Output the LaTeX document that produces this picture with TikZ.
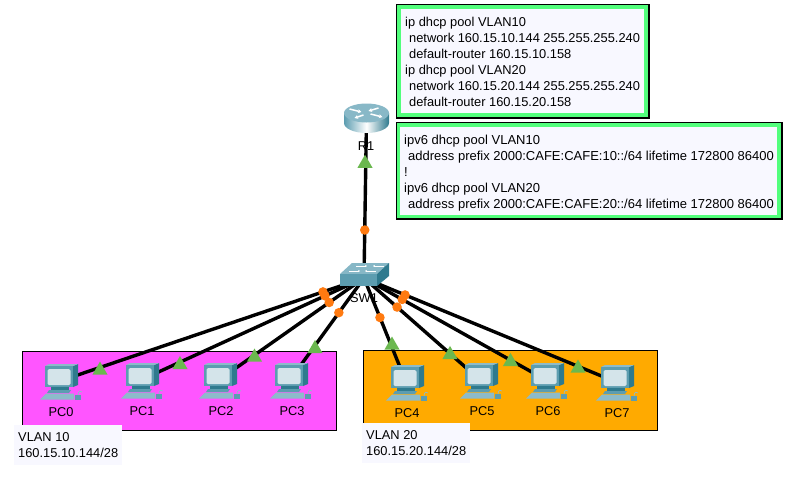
\documentclass[tikz,border=0pt]{standalone}
\usepackage{fontspec}
\setmainfont{Liberation Sans}
\usetikzlibrary{shapes.geometric,arrows.meta}
\definecolor{cfgback}{HTML}{F8F8FF}
\definecolor{cfggreen}{HTML}{52FF7C}
\definecolor{vlanmag}{HTML}{FF55FF}
\definecolor{vlanorg}{HTML}{FFAA00}
\definecolor{tri}{HTML}{6BB84F}
\definecolor{dotc}{HTML}{FF7A10}
\definecolor{teal1}{HTML}{5C9DB0}
\definecolor{teal2}{HTML}{2F7A8E}
\definecolor{teal3}{HTML}{8DBBCA}
\definecolor{screen}{HTML}{D4E4EA}
\tikzset{
  link/.style={draw=black,line width=3.4pt},
  linkdot/.style={circle,fill=dotc,minimum size=9.5pt,inner sep=0pt},
  linktri/.style={regular polygon,regular polygon sides=3,fill=tri,minimum size=17.5pt,inner sep=0pt},
  devlabel/.style={inner sep=0pt,font=\fontsize{12.8}{16}\selectfont,text=black},
  cfgouter/.style={draw=black,line width=1.2pt,fill=cfggreen},
  cfgtext/.style={inner sep=0pt,align=left,anchor=north west,font=\fontsize{12.85}{16}\selectfont},
  widetext/.style={cfgtext,font=\fontsize{13}{16}\selectfont},
  pcicon/.pic={
    \fill[teal2] (13,-15) -- (18,-17) -- (18,4) -- (13,6) -- cycle;
    \fill[teal3] (-15,-15) -- (-11,-17) -- (18,-17) -- (13,-15) -- cycle;
    \fill[teal1] (-15,-15) rectangle (13,6);
    \fill[screen,rounded corners=1.5pt] (-12.5,-12) rectangle (10.5,4);
    \fill[teal2] (-9,6) rectangle (9,9);
    \fill[teal1] (-11,9) -- (11,9) -- (9,12) -- (-13,12) -- cycle;
    \fill[teal3] (-14,12.5) -- (14,12.5) -- (14,18.5) -- (-20,18.5) -- cycle;
    \fill[teal1] (15,14) rectangle (21,18.5);
    \draw[teal3,line width=.7pt] (18,14) .. controls (18,10) and (21,9) .. (22,11);
  },
  routericon/.pic={
    \shade[left color=teal1,right color=teal2,middle color=white]
      (-22.5,-5) -- (-22.5,5) arc[start angle=180,end angle=360,x radius=22.5,y radius=-10] -- (22.5,-5) -- cycle;
    \fill[teal3!90!teal1] (0,-5) ellipse[x radius=22.5,y radius=9.5];
    \begin{scope}[draw=white,line width=1.5pt,-{Stealth[length=3.5pt,width=4pt]}]
      \draw (-17,-9) -- (-5,-6);
      \draw (12,-10) -- (2,-7);
      \draw (4,-4) -- (16,-1);
      \draw (-3,-3) -- (-12,0);
    \end{scope}
  },
  switchicon/.pic={
    \fill[teal3!85!teal1] (-24,-4) -- (-12,-15) -- (25,-15) -- (13,-4) -- cycle;
    \fill[teal1] (-24,-4) rectangle (13,8);
    \fill[teal2] (13,-4) -- (25,-15) -- (25,-2) -- (13,8) -- cycle;
    \begin{scope}[draw=white,line width=.7pt,-{Stealth[length=2pt,width=2.2pt]}]
      \draw (-8,-12) -- (3,-12);
      \draw (20,-12) -- (9,-12);
      \draw (-15,-7) -- (-4,-7);
      \draw (12,-7) -- (1,-7);
    \end{scope}
  },
}
\begin{document}
\begin{tikzpicture}[x=1pt,y=-1pt]
\useasboundingbox (0,0) rectangle (806,482);
\fill[white] (0,0) rectangle (806,482);

% VLAN areas
\fill[vlanmag,draw=black,line width=1pt] (22.5,351.5) rectangle (336.5,430);
\fill[vlanorg,draw=black,line width=1pt] (363.5,350) rectangle (657,430);

% device anchors
\coordinate (r1) at (366.5,118);
\coordinate (sw) at (364,278);
\foreach \n/\x/\y in {0/60/381,1/141/380,2/219/380,3/290/380,4/406/382,5/480/380,6/546/380,7/616/382}
  \coordinate (pc\n) at (\x,\y);

% links
\draw[link] (r1) -- (sw);
\foreach \n in {0,...,7} \draw[link] (sw) -- (pc\n);

% icons
\pic at (r1) {routericon};
\pic at (sw) {switchicon};
\foreach \n in {0,...,7} \pic at (pc\n) {pcicon};

% link-state markers
\path (r1) -- (sw) node[linkdot,pos=.7] (dotr) {};
\foreach \n/\p in {0/.135,1/.175,2/.24,3/.34,4/.38,5/.285,6/.21,7/.163}
  \path (sw) -- (pc\n) node[linkdot,pos=\p] (dot\n) {};
\foreach \n/\x/\y in {r/365/163.5,0/100/370.3,1/180/364.7,2/254.5/357.3,3/315/348.7,4/392/345.3,5/450/354.7,6/510.5/361.7,7/578/368.3}
  \node[linktri] (tri\n) at (\x,\y) {};

% device labels
\node[devlabel] (lr1) at (366,146) {R1};
\node[devlabel] (lsw) at (364,298) {SW1};
\foreach \n/\x/\y in {0/61/412,1/142/411,2/221/411,3/292/411,4/407/413,5/482/411,6/548/411,7/617/413}
  \node[devlabel] (lpc\n) at (\x,\y) {PC\n};

% VLAN captions
\fill[cfgback] (14,425) rectangle (122,465);
\node[cfgtext] (v10) at (18,432) {VLAN 10\\160.15.10.144/28};
\fill[cfgback] (362,423) rectangle (470,463);
\node[cfgtext] (v20) at (366,430) {VLAN 20\\160.15.20.144/28};

% configuration boxes
\draw[cfgouter] (396.5,4.5) rectangle (649,118);
\fill[cfgback] (401,9) rectangle (644,113);
\node[cfgtext] (cfg4) at (405,16.5)
  {ip dhcp pool VLAN10\\
   \hspace*{4pt}network 160.15.10.144 255.255.255.240\\
   \hspace*{4pt}default-router 160.15.10.158\\
   ip dhcp pool VLAN20\\
   \hspace*{4pt}network 160.15.20.144 255.255.255.240\\
   \hspace*{4pt}default-router 160.15.20.158};
\draw[cfgouter] (396.5,122.5) rectangle (782,219);
\fill[cfgback] (400,127) rectangle (777,215);
\node[widetext] (cfg6) at (404,134.5)
  {ipv6 dhcp pool VLAN10\\
   \hspace*{4pt}address prefix 2000:CAFE:CAFE:10::/64 lifetime 172800 86400\\
   !\\
   ipv6 dhcp pool VLAN20\\
   \hspace*{4pt}address prefix 2000:CAFE:CAFE:20::/64 lifetime 172800 86400};
\end{tikzpicture}
\end{document}
